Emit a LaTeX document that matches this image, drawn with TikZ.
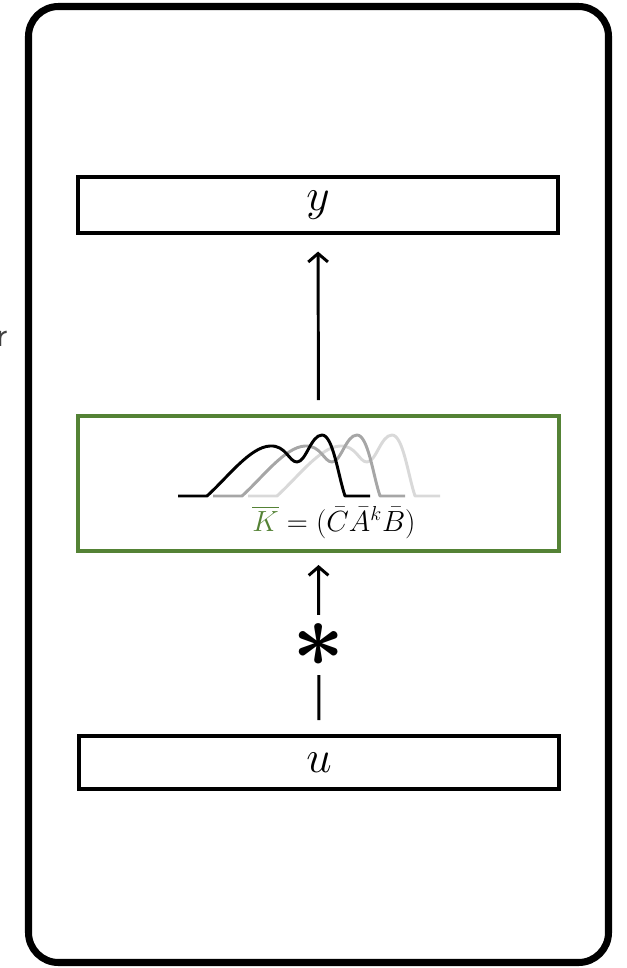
\documentclass[tikz,border=0pt]{standalone}
\usepackage{amsmath}
\usepackage{graphicx}
\usetikzlibrary{arrows.meta,positioning}

\definecolor{kgreen}{HTML}{548235}
\definecolor{kmid}{HTML}{A6A6A6}
\definecolor{klight}{HTML}{D9D9D9}
\definecolor{cutgray}{HTML}{404040}

\begin{document}
\begin{tikzpicture}[
    x=0.025cm, y=-0.025cm,
    frame/.style={draw, line width=5pt, rounded corners=0.75cm},
    iobox/.style={rectangle, draw, line width=2.5pt, minimum width=12cm, inner sep=0pt, font=\fontsize{24.88}{26}\selectfont},
    kbox/.style={rectangle, draw=kgreen, line width=2.8pt, minimum width=12cm, minimum height=3.375cm, inner sep=0pt},
    flow/.style={-{Straight Barb[length=6pt,width=14pt]}, line width=2.1pt},
    kernel/.style={line width=2.1pt, line join=round},
    convstar/.style={fill=white, inner sep=6pt, font=\fontsize{24.88}{26}\selectfont},
]

\useasboundingbox (0,0) rectangle (626,968);

% ---- outer frame ----
\draw[frame] (28.5,6.5) rectangle (608.5,962.5);
\node[anchor=base west, text=cutgray, font=\sffamily\fontsize{24.88}{26}\selectfont] (cut) at (-8,346) {r};

% ---- blocks ----
\node[iobox, minimum height=1.4cm] (yout) at (318,205) {\scalebox{1.3}{$y$}};
\node[kbox] (conv) at (318.5,483.5) {};
\node[iobox, minimum height=1.33cm] (uin) at (319,762.5) {\scalebox{1.3}{$u$}};

% ---- kernel curves (shifted copies) ----
\foreach \s/\c in {70/klight, 35/kmid, 0/black} {
  \begin{scope}[shift={(\s,0)}]
    \draw[kernel, \c] (178,496) -- (207,496)
      .. controls (228,477) and (250,447) .. (270,446)
      .. controls (286,445) and (289,462) .. (297,462)
      .. controls (306,462) and (311,435) .. (322,435)
      .. controls (333,435) and (338,475) .. (345,496) -- (370,496);
  \end{scope}
}
\node[font=\fontsize{20.74}{22}\selectfont] (kform) at (334,522)
  {$\textcolor{kgreen}{\overline{K}} = (\bar{C}\bar{A}^k\bar{B})$};

% ---- connectors ----
\draw[flow, shorten <=0.35cm, shorten >=0.42cm] (conv.north) -- (yout.south);
\draw[flow, shorten <=0.35cm, shorten >=0.3cm] (uin.north) --
  node[convstar, pos=0.49] (conv-op) {\scalebox{2.6}{$\boldsymbol{\ast}$}} (conv.south);

\end{tikzpicture}
\end{document}
